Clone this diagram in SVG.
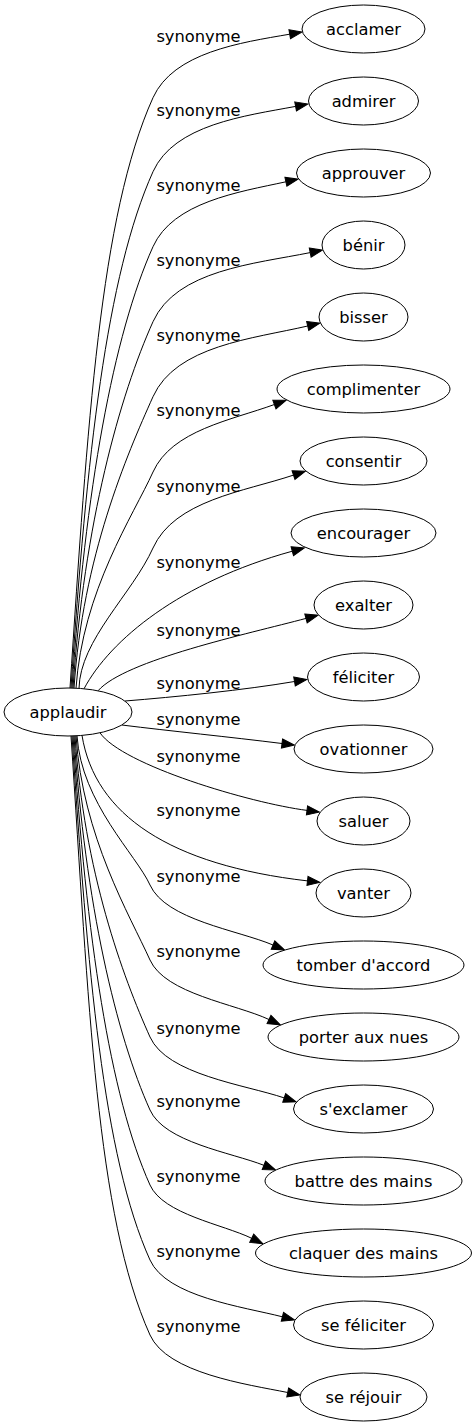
<svg xmlns="http://www.w3.org/2000/svg" width="476" height="1427" viewBox="0 0 476 1427">
<defs>
<style>
text{font-family:"DejaVu Sans","Liberation Sans",sans-serif;font-size:16.3px;fill:#000}
.n ellipse{fill:#fff;stroke:#000;stroke-width:1}
.n text{text-anchor:middle}
#edges path{fill:none;stroke:#000;stroke-width:1;marker-end:url(#ah)}
#labels text{text-anchor:middle}
</style>
<marker id="ah" markerUnits="userSpaceOnUse" viewBox="0 0 14 10" markerWidth="14" markerHeight="10" refX="0" refY="5" orient="auto" overflow="visible">
<path d="M0,0.4 L12.5,5 L0,9.6 z" fill="#000" stroke="#000" stroke-width="1"/>
</marker>
</defs>
<rect x="0" y="0" width="476" height="1427" fill="#fff"/>
<g id="edges">
<path d="M70,688 C87.7,422.4 99.9,215.8 153,97.7 C173.4,52.4 240.7,42.6 289.7,34.2"/>
<path d="M71,688 C86.5,455.7 106.5,275 153,171.7 C174.2,124.6 244.8,115.9 295.6,106.4"/>
<path d="M72,688.1 C85.2,489.5 113.3,335 153,246.7 C173,202.2 238.2,192.1 285.9,181.8"/>
<path d="M73,688.2 C84,523.3 120,395 153,321.7 C176.3,270 254.6,263.8 310.2,252.6"/>
<path d="M74,688.3 C82.7,557.1 126.8,455 153,396.7 C176,345.5 253.1,338.7 307.7,326"/>
<path d="M76,688.2 C82.5,590.9 133.5,515.2 153,472 C171.8,430.2 231.4,420.2 274.4,404.5"/>
<path d="M79,688.4 C80,640 132.5,593.6 153,548 C174.4,500.4 244,491.6 293.5,475.1"/>
<path d="M84,688.8 C110,640 180,582 292.3,551.2"/>
<path d="M98,690.8 C125,660 248,633.9 306,618.4"/>
<path d="M125,701 C175,697 245,690 294.5,681.5"/>
<path d="M121.8,725 C170,731 230,737 282,743.5"/>
<path d="M100,732.8 C122,765 250,803 307,810.4"/>
<path d="M82,735.4 C95,815 170,865 307.5,880.9"/>
<path d="M77,735.8 C81.5,803 136.6,855.2 150,885 C165.7,919.9 237.7,930.1 273,945"/>
<path d="M76,735.8 C82.7,836.7 129.8,915.2 150,960 C165.3,993.9 235.3,1003.8 269,1019.5"/>
<path d="M75,735.9 C84,871.4 122.9,976.8 150,1037 C166.9,1074.7 245,1084.7 284.2,1097.9"/>
<path d="M74,735.9 C85.2,904.2 116.3,1035.2 150,1110 C164.5,1142.3 230.9,1152.4 263.9,1165.3"/>
<path d="M73,735.9 C86.5,938 109.6,1095.2 150,1185 C163.2,1214.3 222.8,1224.3 251.7,1238.3"/>
<path d="M72,736 C87.7,971.8 102.8,1155.2 150,1260 C166.5,1296.8 243.3,1306.8 282.4,1316.8"/>
<path d="M71,736 C89,1005.6 96.1,1215.2 150,1335 C167.1,1373.1 246.7,1384.3 287.7,1392.5"/>
</g>
<g id="labels">
<text x="198.5" y="41.7">synonyme</text>
<text x="198.5" y="115.7">synonyme</text>
<text x="198.5" y="190.7">synonyme</text>
<text x="198.5" y="265.7">synonyme</text>
<text x="198.5" y="340.7">synonyme</text>
<text x="198.5" y="416">synonyme</text>
<text x="198.5" y="492">synonyme</text>
<text x="198.5" y="568">synonyme</text>
<text x="198.5" y="636">synonyme</text>
<text x="198.5" y="689">synonyme</text>
<text x="198.5" y="725">synonyme</text>
<text x="198.5" y="762">synonyme</text>
<text x="198.5" y="816">synonyme</text>
<text x="198.5" y="882">synonyme</text>
<text x="198.5" y="957">synonyme</text>
<text x="198.5" y="1034">synonyme</text>
<text x="198.5" y="1107">synonyme</text>
<text x="198.5" y="1182">synonyme</text>
<text x="198.5" y="1257">synonyme</text>
<text x="198.5" y="1332">synonyme</text>
</g>
<g id="applaudir" class="n"><ellipse cx="68" cy="712" rx="64" ry="24"/><text x="68" y="717.5">applaudir</text></g>
<g id="acclamer" class="n"><ellipse cx="363.5" cy="29" rx="61.5" ry="24"/><text x="363.5" y="34.5">acclamer</text></g>
<g id="admirer" class="n"><ellipse cx="363.5" cy="101" rx="55" ry="24"/><text x="363.5" y="106.5">admirer</text></g>
<g id="approuver" class="n"><ellipse cx="363.5" cy="173" rx="67" ry="24"/><text x="363.5" y="178.5">approuver</text></g>
<g id="benir" class="n"><ellipse cx="363.5" cy="245" rx="41.5" ry="24"/><text x="363.5" y="250.5">bénir</text></g>
<g id="bisser" class="n"><ellipse cx="363.5" cy="317" rx="44.5" ry="24"/><text x="363.5" y="322.5">bisser</text></g>
<g id="complimenter" class="n"><ellipse cx="363.5" cy="389" rx="86.5" ry="24"/><text x="363.5" y="394.5">complimenter</text></g>
<g id="consentir" class="n"><ellipse cx="363.5" cy="461" rx="63.5" ry="24"/><text x="363.5" y="466.5">consentir</text></g>
<g id="encourager" class="n"><ellipse cx="363.5" cy="533" rx="72.5" ry="24"/><text x="363.5" y="538.5">encourager</text></g>
<g id="exalter" class="n"><ellipse cx="363.5" cy="605" rx="49.5" ry="24"/><text x="363.5" y="610.5">exalter</text></g>
<g id="feliciter" class="n"><ellipse cx="363.5" cy="677" rx="56" ry="24"/><text x="363.5" y="682.5">féliciter</text></g>
<g id="ovationner" class="n"><ellipse cx="363.5" cy="749" rx="69.5" ry="24"/><text x="363.5" y="754.5">ovationner</text></g>
<g id="saluer" class="n"><ellipse cx="363.5" cy="821" rx="46.5" ry="24"/><text x="363.5" y="826.5">saluer</text></g>
<g id="vanter" class="n"><ellipse cx="363.5" cy="893" rx="47.5" ry="24"/><text x="363.5" y="898.5">vanter</text></g>
<g id="tomber-d-accord" class="n"><ellipse cx="363.5" cy="965" rx="100.5" ry="24"/><text x="363.5" y="970.5">tomber d'accord</text></g>
<g id="porter-aux-nues" class="n"><ellipse cx="363.5" cy="1037" rx="95.5" ry="24"/><text x="363.5" y="1042.5">porter aux nues</text></g>
<g id="s-exclamer" class="n"><ellipse cx="363.5" cy="1109" rx="70" ry="24"/><text x="363.5" y="1114.5">s'exclamer</text></g>
<g id="battre-des-mains" class="n"><ellipse cx="363.5" cy="1181" rx="98.5" ry="24"/><text x="363.5" y="1186.5">battre des mains</text></g>
<g id="claquer-des-mains" class="n"><ellipse cx="363.5" cy="1253" rx="108" ry="24"/><text x="363.5" y="1258.5">claquer des mains</text></g>
<g id="se-feliciter" class="n"><ellipse cx="363.5" cy="1325" rx="70" ry="24"/><text x="363.5" y="1330.5">se féliciter</text></g>
<g id="se-rejouir" class="n"><ellipse cx="363.5" cy="1397" rx="63.5" ry="24"/><text x="363.5" y="1402.5">se réjouir</text></g>
</svg>
